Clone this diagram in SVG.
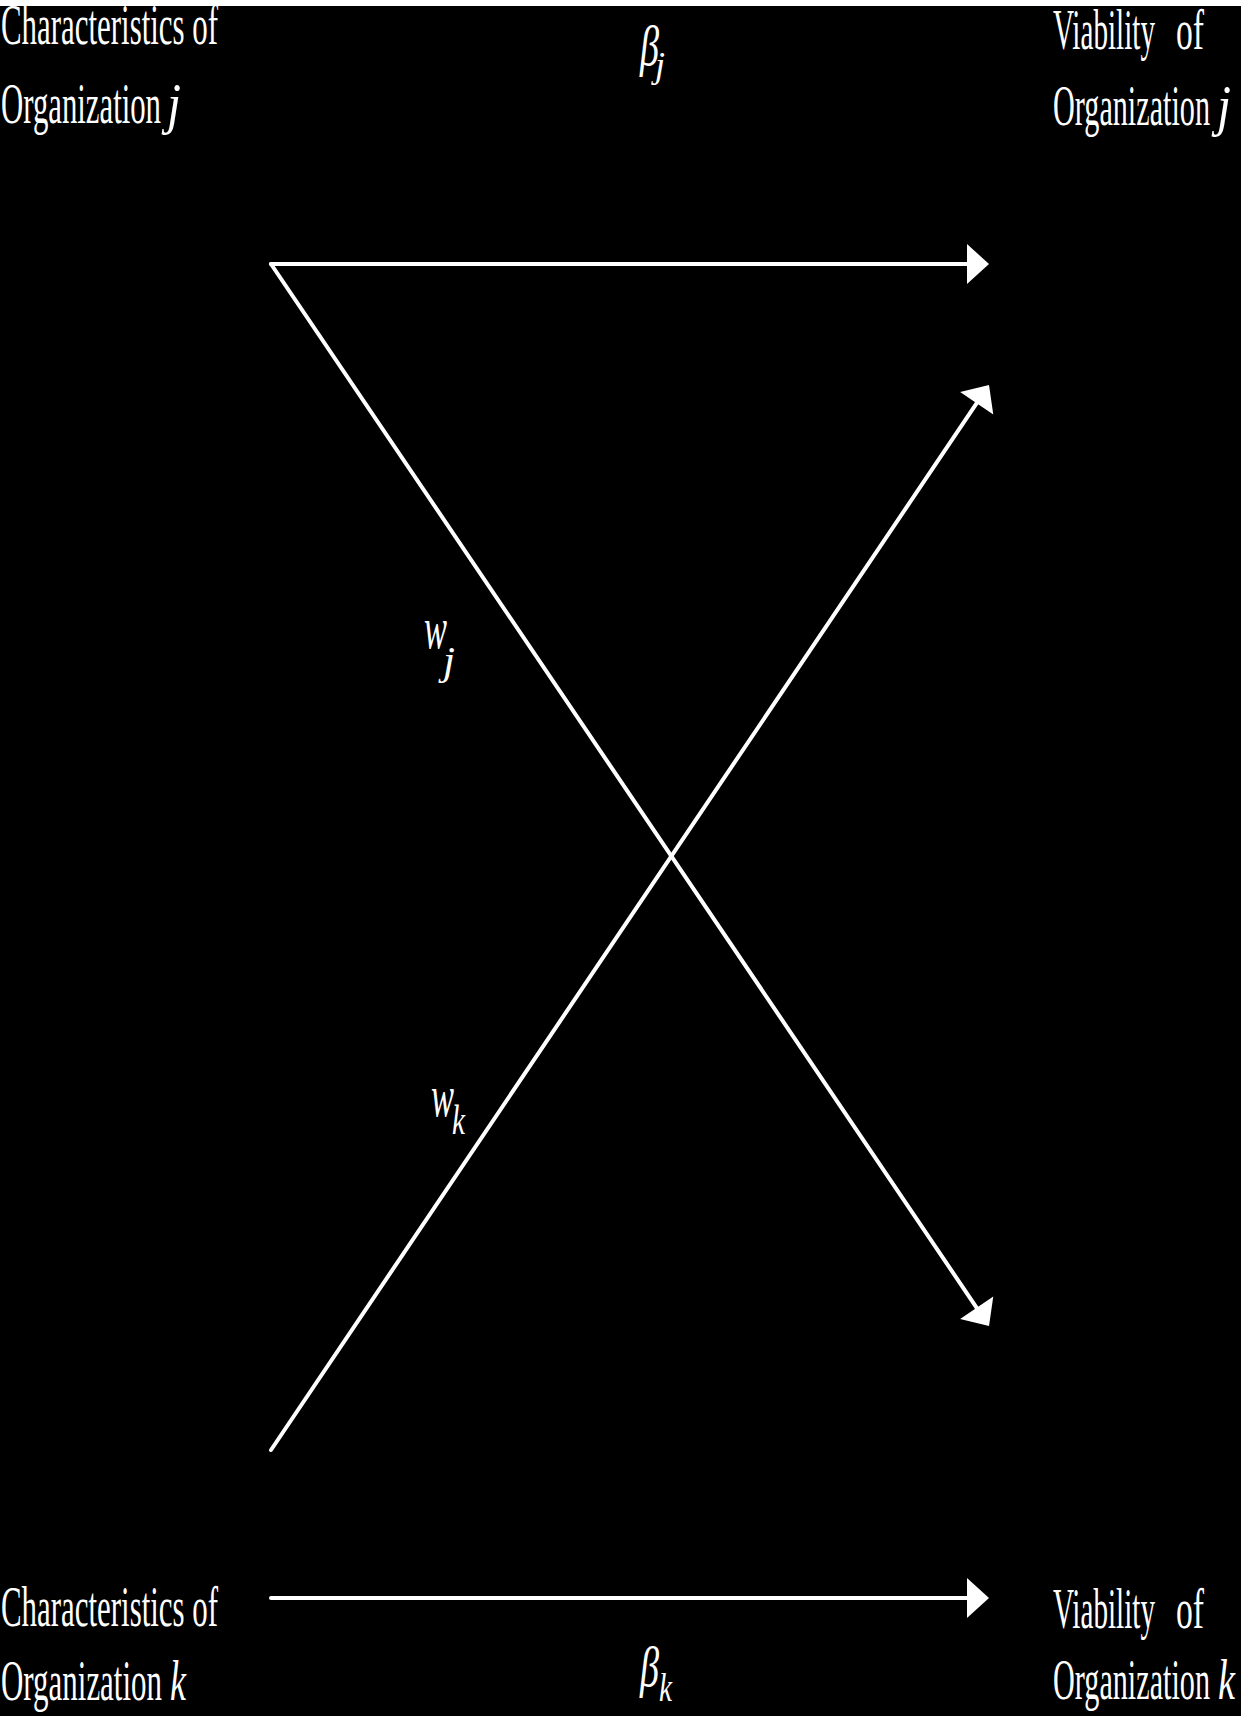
<svg xmlns="http://www.w3.org/2000/svg" width="1241" height="1716" viewBox="0 0 1241 1716">
<style>
.lbl{font-family:"Liberation Serif","Times New Roman",serif;font-size:57px;fill:#fff}
.it{font-family:"Liberation Serif","Times New Roman",serif;font-style:italic;fill:#fff}
.conn{stroke:#fff;stroke-width:4;fill:none;stroke-linecap:round}
</style>
<defs>
<marker id="ah" markerUnits="userSpaceOnUse" markerWidth="24" markerHeight="42" refX="0" refY="21" orient="auto" overflow="visible">
<path d="M0,1 L22,21 L0,41 z" fill="#fff"/>
</marker>
</defs>
<rect x="0" y="0" width="1241" height="1716" fill="#000"/>
<rect x="0" y="0" width="1241" height="6" fill="#fff"/>
<g id="char-j">
<text class="lbl" x="1" y="44" textLength="217" lengthAdjust="spacingAndGlyphs">Characteristics of</text>
<text class="lbl" x="1" y="123" textLength="160" lengthAdjust="spacingAndGlyphs">Organization</text>
<text class="lbl" x="167" y="123" font-style="italic" textLength="14" lengthAdjust="spacingAndGlyphs">j</text>
</g>
<g id="viab-j">
<text class="lbl" x="1053" y="49" textLength="102" lengthAdjust="spacingAndGlyphs">Viability</text>
<text class="lbl" x="1176" y="49" textLength="28" lengthAdjust="spacingAndGlyphs">of</text>
<text class="lbl" x="1053" y="125" textLength="157" lengthAdjust="spacingAndGlyphs">Organization</text>
<text class="lbl" x="1217" y="125" font-style="italic" textLength="14" lengthAdjust="spacingAndGlyphs">j</text>
</g>
<g id="char-k">
<text class="lbl" x="1" y="1626" textLength="217" lengthAdjust="spacingAndGlyphs">Characteristics of</text>
<text class="lbl" x="1" y="1700" textLength="161" lengthAdjust="spacingAndGlyphs">Organization</text>
<text class="lbl" x="170" y="1700" font-style="italic" textLength="16" lengthAdjust="spacingAndGlyphs">k</text>
</g>
<g id="viab-k">
<text class="lbl" x="1053" y="1628" textLength="102" lengthAdjust="spacingAndGlyphs">Viability</text>
<text class="lbl" x="1176" y="1628" textLength="28" lengthAdjust="spacingAndGlyphs">of</text>
<text class="lbl" x="1053" y="1699" textLength="157" lengthAdjust="spacingAndGlyphs">Organization</text>
<text class="lbl" x="1218" y="1699" font-style="italic" textLength="17" lengthAdjust="spacingAndGlyphs">k</text>
</g>
<g id="connectors">
<line class="conn" x1="271" y1="264" x2="967" y2="264" marker-end="url(#ah)"/>
<line class="conn" x1="271" y1="264" x2="976.7" y2="1307.8" marker-end="url(#ah)"/>
<line class="conn" x1="271" y1="1450" x2="976.7" y2="403.2" marker-end="url(#ah)"/>
<line class="conn" x1="271" y1="1598" x2="967" y2="1598" marker-end="url(#ah)"/>
</g>
<g id="label-beta-j">
<text class="it" x="640" y="65" font-size="56" textLength="19" lengthAdjust="spacingAndGlyphs">β</text>
<text class="it" x="655" y="77" font-size="36" textLength="10" lengthAdjust="spacingAndGlyphs">j</text>
</g>
<g id="label-beta-k">
<text class="it" x="640" y="1686" font-size="56" textLength="19" lengthAdjust="spacingAndGlyphs">β</text>
<text class="it" x="659" y="1701" font-size="40" textLength="13" lengthAdjust="spacingAndGlyphs">k</text>
</g>
<g id="label-w-j">
<text class="it" x="424" y="648" font-size="60" textLength="23" lengthAdjust="spacingAndGlyphs">w</text>
<text class="it" x="443" y="674" font-size="40" textLength="12" lengthAdjust="spacingAndGlyphs">j</text>
</g>
<g id="label-w-k">
<text class="it" x="431" y="1116" font-size="60" textLength="23" lengthAdjust="spacingAndGlyphs">w</text>
<text class="it" x="452" y="1134" font-size="42" textLength="13" lengthAdjust="spacingAndGlyphs">k</text>
</g>
</svg>
